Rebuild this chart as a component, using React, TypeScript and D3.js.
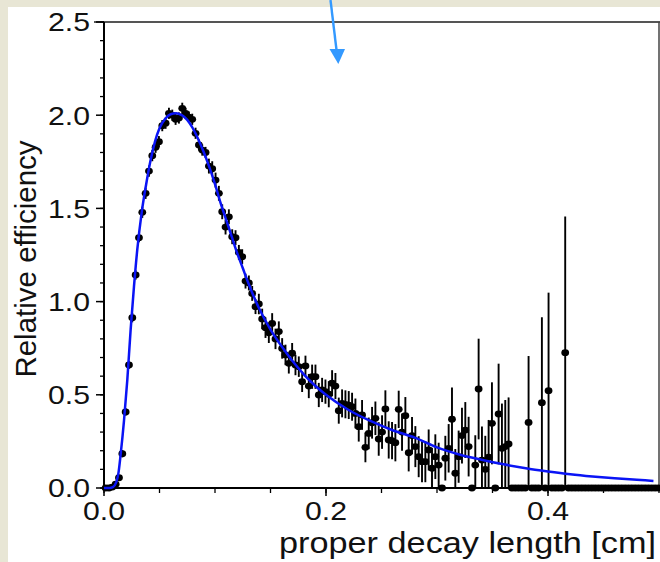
import React from "react";
import * as d3 from "d3";

// ---- data ----
const BIN_WIDTH = 0.003; // bin width of the efficiency histogram [cm]

const efficiency = [
  0, 0, 0.005, 0.02, 0.055, 0.184, 0.408, 0.66, 0.914, 1.143,
  1.343, 1.479, 1.581, 1.7, 1.783, 1.828, 1.858, 1.944, 1.957, 2.01,
  2.0, 1.978, 1.985, 2.037, 2.01, 1.99, 1.978, 1.903, 1.84, 1.813,
  1.8, 1.727, 1.713, 1.652, 1.581, 1.482, 1.4, 1.455, 1.348, 1.343,
  1.264, 1.241, 1.11, 1.1, 1.044, 0.973, 0.987, 0.907, 0.86, 0.833,
  0.883, 0.8, 0.839, 0.749, 0.714, 0.669, 0.723, 0.66, 0.651, 0.57,
  0.655, 0.547, 0.597, 0.597, 0.499, 0.526, 0.517, 0.503, 0.562, 0.547,
  0.415, 0.454, 0.449, 0.445, 0.436, 0.4, 0.329, 0.392, 0.218, 0.293,
  0.35, 0.374, 0.263, 0.3, 0.424, 0.258, 0.254, 0.243, 0.422, 0.3,
  0.388, 0.189, 0.281, 0.222, 0.168, 0.141, 0.141, 0.204, 0.106, 0.168,
  0.123, 0, 0.16, 0.213, 0.369, 0.079, 0.168, 0.281, 0.311, 0.222,
  0, 0.123, 0.531, 0.15, 0.1, 0.165, 0.347, 0, 0.397, 0.213,
  0.222, 0.236, 0, 0, 0, 0, 0, 0.352, 0, 0,
  0, 0.458, 0, 0.522, 0, 0, 0, 0, 0.726, 0,
  0, 0, 0, 0, 0, 0, 0, 0, 0, 0,
  0, 0, 0, 0, 0, 0, 0, 0, 0, 0,
  0, 0, 0, 0, 0, 0, 0,
];

const efficiencyErr = [
  0.005, 0.005, 0.01, 0.01, 0.015, 0.02, 0.02, 0.02, 0.025, 0.025,
  0.025, 0.03, 0.03, 0.03, 0.03, 0.03, 0.03, 0.03, 0.03, 0.03,
  0.03, 0.03, 0.03, 0.03, 0.03, 0.03, 0.03, 0.03, 0.03, 0.03,
  0.03, 0.04, 0.04, 0.04, 0.04, 0.04, 0.04, 0.04, 0.04, 0.04,
  0.04, 0.04, 0.04, 0.04, 0.04, 0.04, 0.055, 0.055, 0.055, 0.055,
  0.055, 0.055, 0.055, 0.055, 0.055, 0.055, 0.055, 0.055, 0.055, 0.055,
  0.055, 0.065, 0.065, 0.065, 0.065, 0.065, 0.065, 0.07, 0.07, 0.07,
  0.07, 0.075, 0.075, 0.075, 0.075, 0.08, 0.08, 0.08, 0.08, 0.085,
  0.085, 0.09, 0.09, 0.09, 0.1, 0.1, 0.1, 0.1, 0.1, 0.1,
  0.1, 0.1, 0.1, 0.11, 0.11, 0.11, 0.11, 0.11, 0.11, 0.12,
  0.12, 0, 0.12, 0.13, 0.17, 0.13, 0.14, 0.15, 0.15, 0.16,
  0, 0.16, 0.27, 0.18, 0.18, 0.2, 0.22, 0, 0.27, 0.24,
  0.25, 0.25, 0, 0, 0, 0, 0, 0.356, 0, 0,
  0, 0.458, 0, 0.526, 0, 0, 0, 0, 0.73, 0,
  0, 0, 0, 0, 0, 0, 0, 0, 0, 0,
  0, 0, 0, 0, 0, 0, 0, 0, 0, 0,
  0, 0, 0, 0, 0, 0, 0,
];

const fitX = [
  0, 0.005, 0.008, 0.011, 0.013, 0.015, 0.018, 0.021, 0.024, 0.027,
  0.03, 0.034, 0.038, 0.042, 0.046, 0.05, 0.055, 0.06, 0.065, 0.07,
  0.075, 0.08, 0.085, 0.09, 0.095, 0.1, 0.105, 0.11, 0.115, 0.12,
  0.125, 0.13, 0.14, 0.15, 0.16, 0.17, 0.18, 0.19, 0.2, 0.22,
  0.24, 0.26, 0.28, 0.3, 0.32, 0.34, 0.36, 0.38, 0.4, 0.42,
  0.44, 0.46, 0.48, 0.495,
];
const fitY = [
  0, 0, 0.005, 0.03, 0.08, 0.18, 0.36, 0.58, 0.85, 1.08,
  1.28, 1.48, 1.63, 1.76, 1.86, 1.93, 1.98, 2.005, 2.01, 2.0,
  1.975, 1.93, 1.87, 1.8, 1.72, 1.63, 1.53, 1.44, 1.35, 1.26,
  1.18, 1.1, 0.96, 0.85, 0.76, 0.68, 0.61, 0.55, 0.5, 0.42,
  0.36, 0.31, 0.27, 0.218, 0.18, 0.152, 0.127, 0.106, 0.089, 0.074,
  0.062, 0.052, 0.044, 0.038,
];

const xMajorTicks = [0, 0.2, 0.4];
const xTickLabels = ["0.0", "0.2", "0.4"];
const yMajorTicks = [0, 0.5, 1.0, 1.5, 2.0, 2.5];
const yTickLabels = ["0.0", "0.5", "1.0", "1.5", "2.0", "2.5"];

const xTitle = "proper decay length [cm]";
const yTitle = "Relative efficiency";

// ---- layout ----
const W = 660;
const H = 562;
const PLOT_L = 104;
const PLOT_R = 659;
const PLOT_T = 22;
const PLOT_B = 488;
const FONT = "'Liberation Sans', Arial, sans-serif";
const TEXT = "#111";

export default function App() {
  const x = d3.scaleLinear().domain([0, 0.5]).range([PLOT_L, PLOT_R]);
  const y = d3.scaleLinear().domain([0, 2.5]).range([PLOT_B, PLOT_T]);

  const xMinor = x.ticks(10);
  const yMinor = y.ticks(25);

  const points = efficiency.map((v, i) => ({
    cx: (i + 0.5) * BIN_WIDTH,
    v,
    e: efficiencyErr[i],
  }));

  const fitLine = d3
    .line<number>()
    .x((_, i) => x(fitX[i]))
    .y((d) => y(d))
    .curve(d3.curveMonotoneX);

  return (
    <svg
      width={W}
      height={H}
      style={{ position: "absolute", left: 0, top: 0, display: "block" }}
      fontFamily={FONT}
    >
      <rect x={0} y={0} width={W} height={H} fill="#e8e6d5" />
      <rect x={8} y={7} width={W - 8} height={H - 7} fill="#ffffff" />

      {/* frame */}
      <line x1={94} x2={W} y1={PLOT_T} y2={PLOT_T} stroke="#555" strokeWidth={2} />
      <line x1={PLOT_R} x2={PLOT_R} y1={PLOT_T} y2={PLOT_B} stroke="#444" strokeWidth={1.5} />

      {/* y ticks */}
      {yMinor.map((t) => (
        <line key={"ym" + t} x1={PLOT_L - 4} x2={PLOT_L} y1={y(t)} y2={y(t)} stroke="#000" strokeWidth={1.3} />
      ))}
      {yMajorTicks.map((t, i) => (
        <g key={"yM" + t}>
          <line x1={PLOT_L - 8} x2={PLOT_L} y1={y(t)} y2={y(t)} stroke="#000" strokeWidth={1.5} />
          <text
            x={90}
            y={y(t)}
            dy="0.36em"
            textAnchor="end"
            fontSize={26}
            textLength={42}
            lengthAdjust="spacingAndGlyphs"
            fill={TEXT}
          >
            {yTickLabels[i]}
          </text>
        </g>
      ))}

      {/* x ticks */}
      {xMinor.map((t) => (
        <line key={"xm" + t} x1={x(t)} x2={x(t)} y1={PLOT_B} y2={PLOT_B + 5} stroke="#000" strokeWidth={1.3} />
      ))}
      {xMajorTicks.map((t, i) => (
        <g key={"xM" + t}>
          <line x1={x(t)} x2={x(t)} y1={PLOT_B} y2={PLOT_B + 8} stroke="#000" strokeWidth={1.5} />
          <text
            x={x(t)}
            y={520}
            textAnchor="middle"
            fontSize={25}
            textLength={42}
            lengthAdjust="spacingAndGlyphs"
            fill={TEXT}
          >
            {xTickLabels[i]}
          </text>
        </g>
      ))}

      {/* error bars */}
      {points
        .filter((p) => p.e > 0)
        .map((p, i) => (
          <line
            key={"e" + i}
            x1={x(p.cx)}
            x2={x(p.cx)}
            y1={y(Math.max(0, p.v - p.e))}
            y2={y(p.v + p.e)}
            stroke="#000"
            strokeWidth={1.9}
          />
        ))}

      {/* points */}
      {points.map((p, i) => (
        <ellipse key={"p" + i} cx={x(p.cx)} cy={y(p.v)} rx={3.9} ry={3.4} fill="#000" />
      ))}

      {/* axes */}
      <line x1={PLOT_L} x2={PLOT_L} y1={PLOT_T} y2={PLOT_B} stroke="#000" strokeWidth={2} />
      <line x1={PLOT_L} x2={PLOT_R} y1={PLOT_B} y2={PLOT_B} stroke="#000" strokeWidth={2} />

      {/* fit */}
      <path d={fitLine(fitY) || ""} fill="none" stroke="#0a14f5" strokeWidth={2.5} />

      {/* titles */}
      <text
        x={656}
        y={553}
        textAnchor="end"
        fontSize={30}
        textLength={377}
        lengthAdjust="spacingAndGlyphs"
        fill={TEXT}
      >
        {xTitle}
      </text>
      <text
        transform={`translate(36,${259}) rotate(-90)`}
        textAnchor="middle"
        fontSize={29.5}
        fill={TEXT}
      >
        {yTitle}
      </text>

      {/* annotation arrow */}
      <line x1={330.5} y1={0} x2={336.5} y2={50} stroke="#3399ff" strokeWidth={2.4} />
      <polygon points="329.5,49 345,49 338.3,64" fill="#3399ff" />
    </svg>
  );
}
